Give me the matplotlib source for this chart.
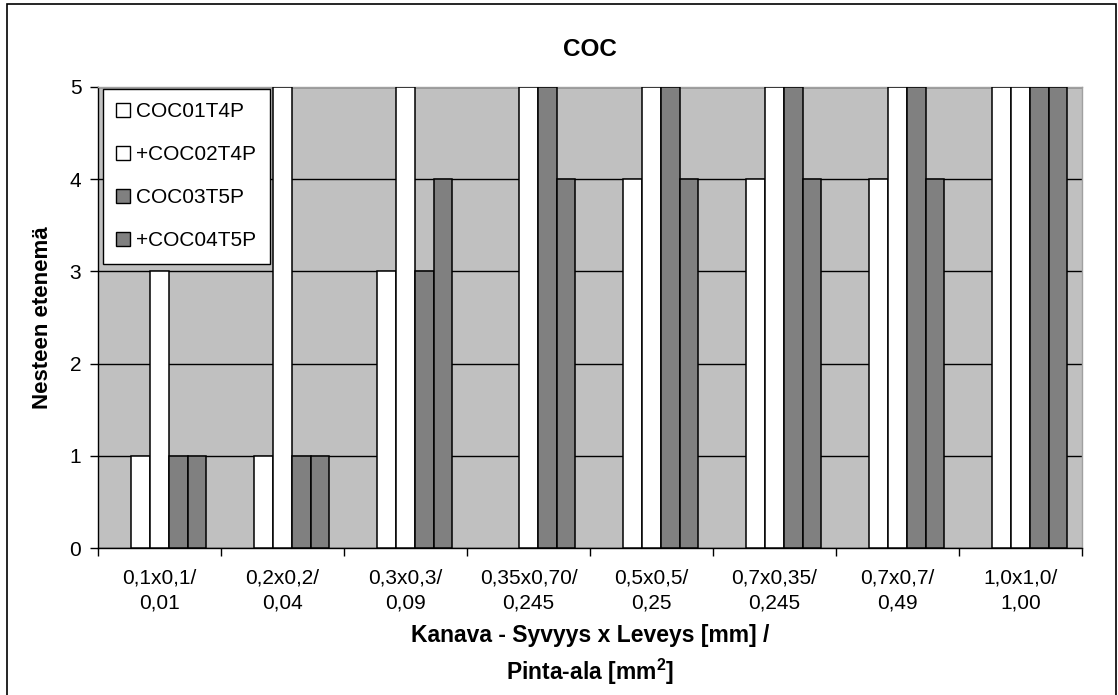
import matplotlib
matplotlib.use("Agg")
import matplotlib.pyplot as plt
from matplotlib.patches import Patch, Rectangle
import numpy as np

plt.rcParams['font.family'] = ['Liberation Sans', 'DejaVu Sans']

categories = ["0,1x0,1/\n0,01", "0,2x0,2/\n0,04", "0,3x0,3/\n0,09", "0,35x0,70/\n0,245",
              "0,5x0,5/\n0,25", "0,7x0,35/\n0,245", "0,7x0,7/\n0,49", "1,0x1,0/\n1,00"]
series_names = ["COC01T4P", "+COC02T4P", "COC03T5P", "+COC04T5P"]
coc01 = [1, 1, 3, 0, 4, 4, 4, 5]
coc02 = [3, 5, 5, 5, 5, 5, 5, 5]
coc03 = [1, 1, 3, 5, 5, 5, 5, 5]
coc04 = [1, 1, 4, 4, 4, 4, 4, 5]
series_values = [coc01, coc02, coc03, coc04]
series_colors = ["#FFFFFF", "#FFFFFF", "#808080", "#808080"]

title = "COC"
ylabel = "Nesteen etenemä"
xlabel = "Kanava - Syvyys x Leveys [mm] /\nPinta-ala [mm$^\\mathregular{2}$]"

W, H = 1118, 695
fig = plt.figure(figsize=(W / 100, H / 100), dpi=100)
ax = fig.add_axes([98 / W, 1 - 548 / H, (1082 - 98) / W, (548 - 87) / H])
ax.set_facecolor("#C0C0C0")

n = len(categories)
bw = 0.152
margin = (1 - 5 * bw) / 2
idx = np.arange(n)
for k, (vals, col) in enumerate(zip(series_values, series_colors)):
    # slot 0 of each group stays empty; visible series occupy slots 1-4
    centers = idx + margin + (k + 1.5) * bw
    vals = np.asarray(vals, dtype=float)
    shown = vals > 0
    ax.bar(centers[shown], vals[shown], width=bw, color=col, edgecolor="black",
           linewidth=1.1, zorder=3)

ax.set_xlim(0, n)
ax.set_ylim(0, 5)
ax.set_yticks(range(0, 6))
ax.yaxis.grid(True, color="black", linewidth=1.0, zorder=1)
ax.set_axisbelow(True)

ax.set_xticks(np.arange(0, n + 1))
ax.set_xticklabels([])
ax.set_xticks(idx + 0.5, minor=True)
ax.set_xticklabels(categories, minor=True, fontsize=15, linespacing=1.38)
ax.tick_params(axis="x", which="minor", length=0, pad=15)
ax.tick_params(axis="x", which="major", length=6, width=1, color="black", direction="out")
ax.tick_params(axis="y", length=6, width=1, direction="out", labelsize=15, pad=6)

for s in ["left", "bottom"]:
    ax.spines[s].set_color("black")
    ax.spines[s].set_linewidth(1.0)
for s in ["top", "right"]:
    ax.spines[s].set_color("#A0A0A0")
    ax.spines[s].set_linewidth(1.0)

ax.set_title(title, fontsize=17.5, fontweight="bold", pad=22)
ax.set_ylabel(ylabel, fontsize=16, fontweight="bold", labelpad=12)
ax.set_xlabel(xlabel, fontsize=16.5, fontweight="bold", linespacing=1.45, labelpad=8)

handles = [Patch(facecolor=c, edgecolor="black", linewidth=1.0) for c in series_colors]
leg = ax.legend(handles, series_names, loc="upper left", bbox_to_anchor=(0.005, 0.996),
                fontsize=15, frameon=True, fancybox=False, edgecolor="black",
                framealpha=1, labelspacing=1.15, handlelength=0.65, handleheight=0.65,
                handletextpad=0.3, borderpad=0.65, borderaxespad=0)
leg.get_frame().set_linewidth(1.0)
leg.set_zorder(5)

fig.patches.append(Rectangle((7 / W, -0.01), (1116 - 7) / W, 1 - 4 / H + 0.01,
                             transform=fig.transFigure, fill=False,
                             edgecolor="black", linewidth=1.2))

fig.savefig("out.png", dpi=100)
